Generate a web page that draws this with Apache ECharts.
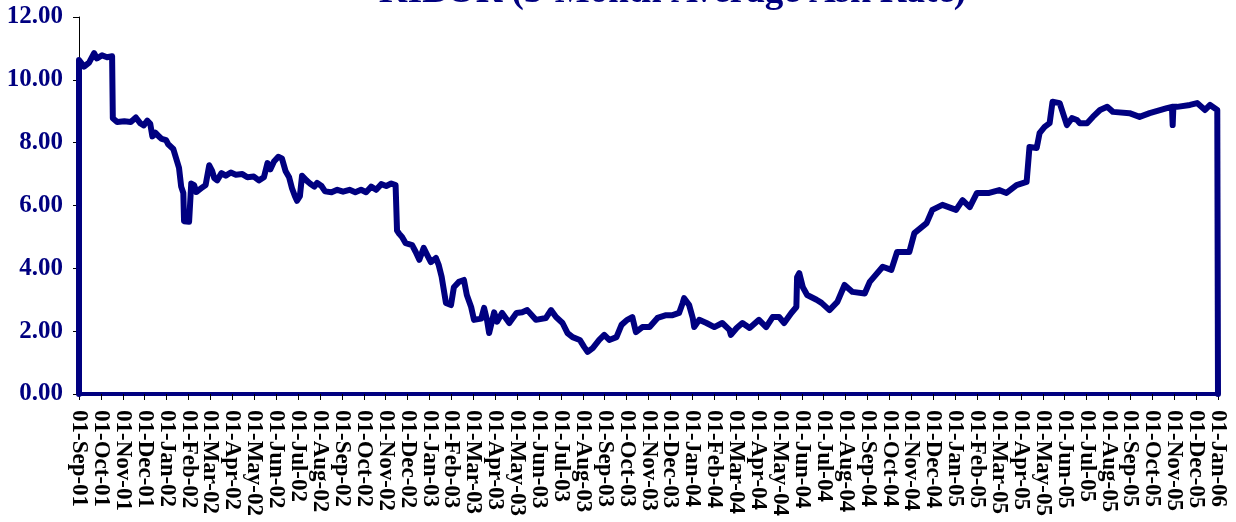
<!DOCTYPE html>
<html>
<head>
<meta charset="utf-8">
<title>KIBOR (3-Month Average Ask Rate)</title>
<script src="https://cdn.jsdelivr.net/npm/echarts@6/dist/echarts.min.js"></script>
<style>
  html, body { margin: 0; padding: 0; background: #ffffff; }
  #chart { width: 1236px; height: 522px; }
</style>
</head>
<body>
<div id="chart"></div>
<script>
// Month labels along the bottom axis
const monthLabels = [
  '01-Sep-01','01-Oct-01','01-Nov-01','01-Dec-01',
  '01-Jan-02','01-Feb-02','01-Mar-02','01-Apr-02','01-May-02','01-Jun-02',
  '01-Jul-02','01-Aug-02','01-Sep-02','01-Oct-02','01-Nov-02','01-Dec-02',
  '01-Jan-03','01-Feb-03','01-Mar-03','01-Apr-03','01-May-03','01-Jun-03',
  '01-Jul-03','01-Aug-03','01-Sep-03','01-Oct-03','01-Nov-03','01-Dec-03',
  '01-Jan-04','01-Feb-04','01-Mar-04','01-Apr-04','01-May-04','01-Jun-04',
  '01-Jul-04','01-Aug-04','01-Sep-04','01-Oct-04','01-Nov-04','01-Dec-04',
  '01-Jan-05','01-Feb-05','01-Mar-05','01-Apr-05','01-May-05','01-Jun-05',
  '01-Jul-05','01-Aug-05','01-Sep-05','01-Oct-05','01-Nov-05','01-Dec-05',
  '01-Jan-06'
];

// Observation dates and 3-month average ask rate (%)
const obsDates = [
  '2001-09-01','2001-09-01','2001-09-08','2001-09-15','2001-09-22','2001-09-26',
  '2001-10-03','2001-10-10','2001-10-17','2001-10-18','2001-10-24','2001-11-03',
  '2001-11-12','2001-11-19','2001-11-25','2001-11-30','2001-12-05','2001-12-09',
  '2001-12-12','2001-12-16','2001-12-21','2001-12-25','2001-12-31',
  '2002-01-03','2002-01-10','2002-01-14','2002-01-18','2002-01-21','2002-01-24',
  '2002-01-25','2002-02-01','2002-02-04','2002-02-08','2002-02-11','2002-02-18',
  '2002-02-24','2002-03-01','2002-03-05','2002-03-08','2002-03-12','2002-03-18',
  '2002-03-24','2002-03-31','2002-04-07','2002-04-16','2002-04-23','2002-05-02',
  '2002-05-09','2002-05-16','2002-05-21','2002-05-25','2002-05-30','2002-06-05',
  '2002-06-10','2002-06-15','2002-06-20','2002-06-24','2002-06-28','2002-07-01',
  '2002-07-05','2002-07-08','2002-07-14','2002-07-19','2002-07-25','2002-07-29',
  '2002-08-04','2002-08-09','2002-08-18','2002-08-26','2002-09-03','2002-09-12',
  '2002-09-20','2002-09-28','2002-10-05','2002-10-12','2002-10-19','2002-10-26',
  '2002-11-02','2002-11-09','2002-11-15','2002-11-17','2002-11-20','2002-11-24',
  '2002-11-29','2002-12-08','2002-12-13','2002-12-18','2002-12-24','2002-12-29',
  '2003-01-03','2003-01-10','2003-01-14','2003-01-18','2003-01-24','2003-01-31',
  '2003-02-04','2003-02-11','2003-02-18','2003-02-22','2003-02-28','2003-03-04',
  '2003-03-14','2003-03-18','2003-03-22','2003-03-25','2003-04-01','2003-04-05',
  '2003-04-12','2003-04-22','2003-05-02','2003-05-10','2003-05-17','2003-05-29',
  '2003-06-12','2003-06-19','2003-06-26','2003-07-05','2003-07-12','2003-07-19',
  '2003-07-29','2003-08-04','2003-08-09','2003-08-16','2003-08-25','2003-09-01',
  '2003-09-08','2003-09-18','2003-09-25','2003-10-03','2003-10-10','2003-10-15',
  '2003-10-24','2003-11-03','2003-11-14','2003-11-26','2003-12-05','2003-12-14',
  '2003-12-19','2003-12-21','2003-12-28','2004-01-02','2004-01-04','2004-01-11',
  '2004-01-21','2004-02-01','2004-02-12','2004-02-22','2004-02-24','2004-03-03',
  '2004-03-11','2004-03-21','2004-04-03','2004-04-13','2004-04-22','2004-05-01',
  '2004-05-08','2004-05-18','2004-05-25','2004-05-26','2004-05-29','2004-06-03',
  '2004-06-09','2004-06-22','2004-06-29','2004-07-10','2004-07-21','2004-07-31',
  '2004-08-11','2004-08-28','2004-09-04','2004-09-22','2004-10-04','2004-10-12',
  '2004-10-29','2004-11-05','2004-11-22','2004-11-30','2004-12-14','2005-01-02',
  '2005-01-11','2005-01-21','2005-01-31','2005-02-17','2005-03-03','2005-03-13',
  '2005-03-27','2005-04-10','2005-04-14','2005-04-24','2005-04-28','2005-05-05',
  '2005-05-12','2005-05-16','2005-05-26','2005-06-05','2005-06-12','2005-06-19',
  '2005-06-23','2005-07-03','2005-07-11','2005-07-21','2005-07-31','2005-08-08',
  '2005-08-31','2005-09-14','2005-09-28','2005-10-22','2005-10-29','2005-10-30',
  '2005-10-31','2005-11-05','2005-11-23','2005-12-03','2005-12-14','2005-12-21',
  '2005-12-31','2006-01-01'
];

const askRate = [
  0, 10.63, 10.42, 10.55, 10.85, 10.68,
  10.78, 10.72, 10.75, 8.78, 8.66, 8.68,
  8.66, 8.80, 8.62, 8.55, 8.70, 8.60,
  8.20, 8.32, 8.20, 8.12, 8.08,
  7.95, 7.80, 7.50, 7.20, 6.60, 6.40,
  5.50, 5.48, 6.70, 6.65, 6.43, 6.55,
  6.65, 7.28, 7.10, 6.87, 6.80, 7.03,
  6.95, 7.05, 6.98, 7.00, 6.90, 6.92,
  6.80, 6.90, 7.35, 7.15, 7.40, 7.55,
  7.50, 7.10, 6.90, 6.55, 6.30, 6.15,
  6.30, 6.95, 6.80, 6.70, 6.60, 6.72,
  6.62, 6.45, 6.42, 6.50, 6.44, 6.50,
  6.42, 6.50, 6.42, 6.60, 6.50, 6.68,
  6.62, 6.70, 6.65, 5.20, 5.10, 5.00,
  4.80, 4.74, 4.52, 4.27, 4.65, 4.42,
  4.20, 4.33, 4.10, 3.73, 2.90, 2.83,
  3.40, 3.57, 3.63, 3.15, 2.77, 2.36,
  2.40, 2.74, 2.36, 1.94, 2.60, 2.30,
  2.58, 2.26, 2.58, 2.60, 2.67, 2.36,
  2.42, 2.67, 2.45, 2.26, 1.94, 1.81,
  1.72, 1.50, 1.34, 1.46, 1.72, 1.88,
  1.72, 1.81, 2.20, 2.36, 2.45, 1.97,
  2.13, 2.13, 2.42, 2.51, 2.51, 2.58,
  2.90, 3.05, 2.83, 2.42, 2.13, 2.36,
  2.26, 2.13, 2.26, 2.04, 1.88, 2.10,
  2.26, 2.10, 2.36, 2.13, 2.45, 2.45,
  2.26, 2.58, 2.77, 3.72, 3.85, 3.40,
  3.15, 3.00, 2.90, 2.67, 2.93, 3.47,
  3.25, 3.20, 3.57, 4.05, 3.95, 4.52,
  4.52, 5.12, 5.44, 5.86, 6.02, 5.86,
  6.17, 5.95, 6.40, 6.40, 6.49, 6.40,
  6.65, 6.75, 7.86, 7.83, 8.30, 8.50,
  8.62, 9.30, 9.26, 8.56, 8.78, 8.72,
  8.62, 8.62, 8.82, 9.04, 9.14, 8.98,
  8.94, 8.82, 8.94, 9.10, 9.14, 8.56,
  9.14, 9.14, 9.20, 9.26, 9.04, 9.20,
  9.04, 0
];

const yTicks = [0, 2, 4, 6, 8, 10, 12];

const navy = '#000080';
const serif = '"Liberation Serif", "Times New Roman", "DejaVu Serif", serif';

const seriesData = obsDates.map((d, i) => [d, askRate[i]]);

const chart = echarts.init(document.getElementById('chart'), null, { renderer: 'canvas' });

chart.setOption({
  animation: false,
  backgroundColor: '#ffffff',
  title: {
    text: 'KIBOR (3-Month Average Ask Rate)',
    left: 374,
    top: -31,
    textStyle: {
      fontFamily: serif,
      fontWeight: 'bold',
      fontSize: 37,
      color: navy
    }
  },
  grid: { left: 79, right: 18, top: 17, bottom: 128, containLabel: false },
  xAxis: [
    {
      type: 'category',
      data: monthLabels,
      boundaryGap: false,
      axisLine: { show: true, onZero: false, lineStyle: { color: navy, width: 4 } },
      axisTick: { show: true, interval: 0, length: 6, lineStyle: { color: '#000000', width: 1 } },
      axisLabel: {
        interval: 0,
        rotate: -90,
        margin: 16,
        fontFamily: serif,
        fontWeight: 'bold',
        fontSize: 23,
        color: '#000000'
      },
      splitLine: { show: false }
    },
    {
      type: 'time',
      min: '2001-09-01',
      max: '2006-01-01',
      show: false
    }
  ],
  yAxis: {
    type: 'value',
    min: yTicks[0],
    max: yTicks[yTicks.length - 1],
    interval: 2,
    axisLine: { show: true, lineStyle: { color: '#000000', width: 1 } },
    axisTick: { show: true, length: 6, lineStyle: { color: '#000000' } },
    axisLabel: {
      margin: 16,
      fontFamily: serif,
      fontWeight: 'bold',
      fontSize: 25,
      color: navy,
      formatter: v => v.toFixed(2)
    },
    splitLine: { show: false }
  },
  series: [
    {
      type: 'line',
      xAxisIndex: 1,
      data: seriesData,
      showSymbol: false,
      symbol: 'none',
      lineStyle: { color: navy, width: 6, join: 'round', cap: 'round' },
      z: 3
    }
  ]
});
</script>
</body>
</html>
